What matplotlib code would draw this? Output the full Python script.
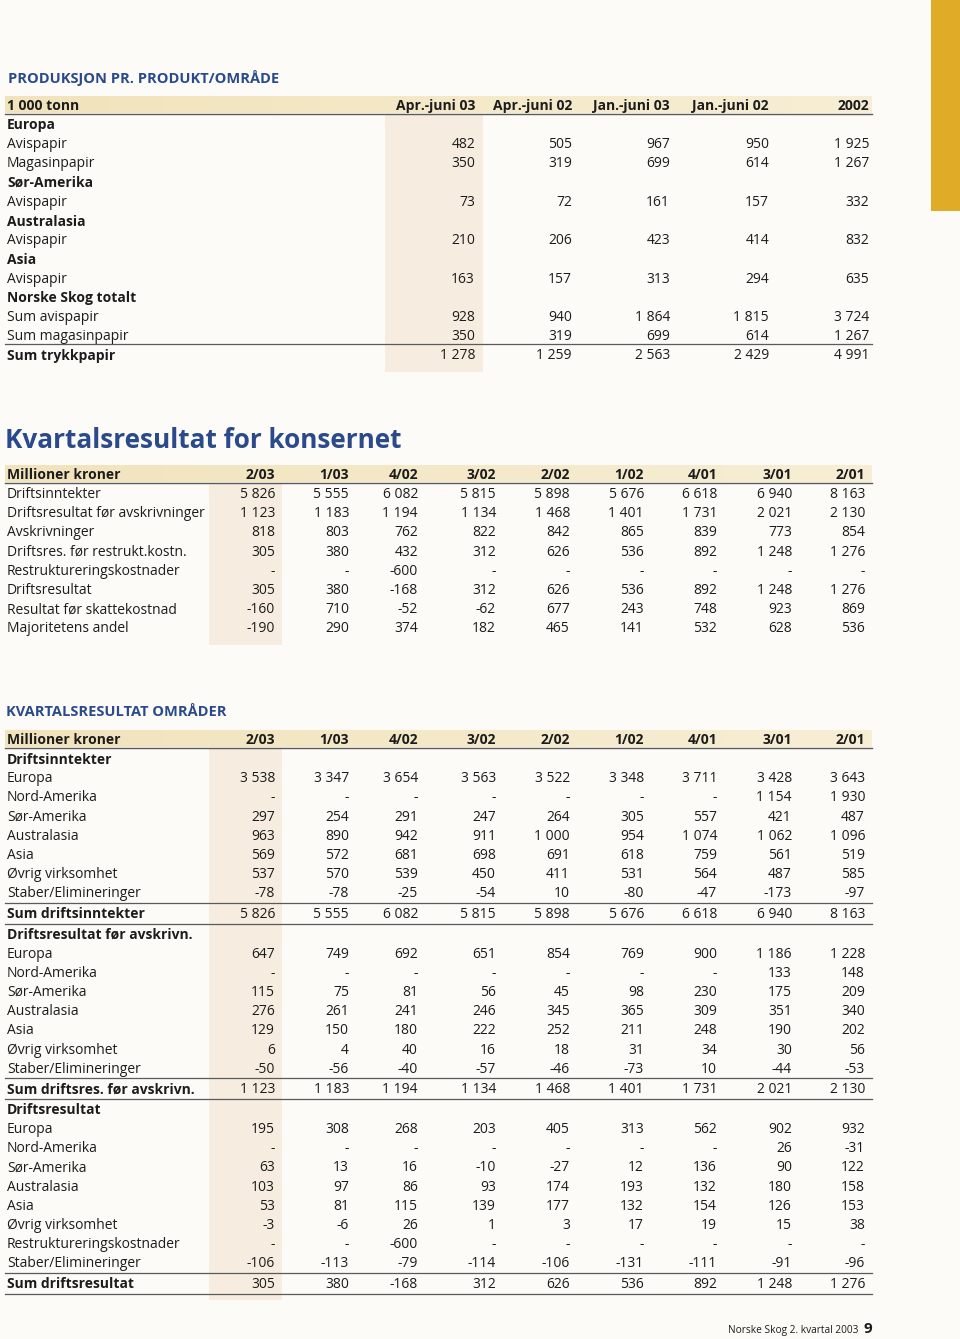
import numpy as np
import matplotlib
matplotlib.use("Agg")
import matplotlib.pyplot as plt
from matplotlib import font_manager

# --- data -------------------------------------------------------------
prod_cols = ["Apr.-juni 03", "Apr.-juni 02", "Jan.-juni 03", "Jan.-juni 02", "2002"]
prod_rows = [
    ("group", "Europa", None),
    ("row", "Avispapir", [482, 505, 967, 950, 1925]),
    ("row", "Magasinpapir", [350, 319, 699, 614, 1267]),
    ("group", "Sør-Amerika", None),
    ("row", "Avispapir", [73, 72, 161, 157, 332]),
    ("group", "Australasia", None),
    ("row", "Avispapir", [210, 206, 423, 414, 832]),
    ("group", "Asia", None),
    ("row", "Avispapir", [163, 157, 313, 294, 635]),
    ("group", "Norske Skog totalt", None),
    ("row", "Sum avispapir", [928, 940, 1864, 1815, 3724]),
    ("row", "Sum magasinpapir", [350, 319, 699, 614, 1267]),
    ("sum1", "Sum trykkpapir", [1278, 1259, 2563, 2429, 4991]),
]

quarters = ["2/03", "1/03", "4/02", "3/02", "2/02", "1/02", "4/01", "3/01", "2/01"]
N = None
kons_rows = [
    ("row", "Driftsinntekter", [5826, 5555, 6082, 5815, 5898, 5676, 6618, 6940, 8163]),
    ("row", "Driftsresultat før avskrivninger", [1123, 1183, 1194, 1134, 1468, 1401, 1731, 2021, 2130]),
    ("row", "Avskrivninger", [818, 803, 762, 822, 842, 865, 839, 773, 854]),
    ("row", "Driftsres. før restrukt.kostn.", [305, 380, 432, 312, 626, 536, 892, 1248, 1276]),
    ("row", "Restruktureringskostnader", [N, N, -600, N, N, N, N, N, N]),
    ("row", "Driftsresultat", [305, 380, -168, 312, 626, 536, 892, 1248, 1276]),
    ("row", "Resultat før skattekostnad", [-160, 710, -52, -62, 677, 243, 748, 923, 869]),
    ("row", "Majoritetens andel", [-190, 290, 374, 182, 465, 141, 532, 628, 536]),
]

omr_rows = [
    ("group", "Driftsinntekter", None),
    ("row", "Europa", [3538, 3347, 3654, 3563, 3522, 3348, 3711, 3428, 3643]),
    ("row", "Nord-Amerika", [N, N, N, N, N, N, N, 1154, 1930]),
    ("row", "Sør-Amerika", [297, 254, 291, 247, 264, 305, 557, 421, 487]),
    ("row", "Australasia", [963, 890, 942, 911, 1000, 954, 1074, 1062, 1096]),
    ("row", "Asia", [569, 572, 681, 698, 691, 618, 759, 561, 519]),
    ("row", "Øvrig virksomhet", [537, 570, 539, 450, 411, 531, 564, 487, 585]),
    ("row", "Staber/Elimineringer", [-78, -78, -25, -54, 10, -80, -47, -173, -97]),
    ("sum", "Sum driftsinntekter", [5826, 5555, 6082, 5815, 5898, 5676, 6618, 6940, 8163]),
    ("group", "Driftsresultat før avskrivn.", None),
    ("row", "Europa", [647, 749, 692, 651, 854, 769, 900, 1186, 1228]),
    ("row", "Nord-Amerika", [N, N, N, N, N, N, N, 133, 148]),
    ("row", "Sør-Amerika", [115, 75, 81, 56, 45, 98, 230, 175, 209]),
    ("row", "Australasia", [276, 261, 241, 246, 345, 365, 309, 351, 340]),
    ("row", "Asia", [129, 150, 180, 222, 252, 211, 248, 190, 202]),
    ("row", "Øvrig virksomhet", [6, 4, 40, 16, 18, 31, 34, 30, 56]),
    ("row", "Staber/Elimineringer", [-50, -56, -40, -57, -46, -73, 10, -44, -53]),
    ("sum", "Sum driftsres. før avskrivn.", [1123, 1183, 1194, 1134, 1468, 1401, 1731, 2021, 2130]),
    ("group", "Driftsresultat", None),
    ("row", "Europa", [195, 308, 268, 203, 405, 313, 562, 902, 932]),
    ("row", "Nord-Amerika", [N, N, N, N, N, N, N, 26, -31]),
    ("row", "Sør-Amerika", [63, 13, 16, -10, -27, 12, 136, 90, 122]),
    ("row", "Australasia", [103, 97, 86, 93, 174, 193, 132, 180, 158]),
    ("row", "Asia", [53, 81, 115, 139, 177, 132, 154, 126, 153]),
    ("row", "Øvrig virksomhet", [-3, -6, 26, 1, 3, 17, 19, 15, 38]),
    ("row", "Restruktureringskostnader", [N, N, -600, N, N, N, N, N, N]),
    ("row", "Staber/Elimineringer", [-106, -113, -79, -114, -106, -131, -111, -91, -96]),
    ("sum", "Sum driftsresultat", [305, 380, -168, 312, 626, 536, 892, 1248, 1276]),
]

# --- style ------------------------------------------------------------
# pick a humanist sans that actually ships a bold face
bold_families = {f.name for f in font_manager.fontManager.ttflist
                 if (f.weight if isinstance(f.weight, int) else 400) >= 600
                 or str(f.weight).lower() in ("bold", "semibold", "demibold")}
FONT = "DejaVu Sans"
for cand in ["Open Sans", "Noto Sans", "Lato", "Roboto", "Inter"]:
    if cand in bold_families:
        FONT = cand
        break
plt.rcParams["font.family"] = [FONT, "DejaVu Sans"]

BG = "#fcfbf7"
BLUE = "#2a4a8b"
INK = "#1c1c1c"
BAND_L = "#f1e3bb"
BAND_R = "#f7eed5"
HILITE = "#f6ece0"
RULE = "#5a5a5a"
FS = 10.0
ROW_H = 19.2

fig = plt.figure(figsize=(9.6, 13.39), dpi=100, facecolor=BG)
ax = fig.add_axes([0, 0, 1, 1])
ax.set_xlim(0, 960)
ax.set_ylim(1339, 0)
ax.axis("off")
ax.set_facecolor(BG)

band_img = np.linspace(0, 1, 256).reshape(1, -1)
band_cmap = matplotlib.colors.LinearSegmentedColormap.from_list("band", [BAND_L, BAND_R])


def fmt(v):
    if v is None:
        return "-"
    return f"{v:,}".replace(",", " ")


def draw_table(head_y, label, cols, col_right, rows, hl_x, x0=5, x1=872):
    # header band + rule
    ax.imshow(band_img, cmap=band_cmap, aspect="auto",
              extent=(x0, x1, head_y + 8.5, head_y - 8.5), zorder=0)
    ax.plot([x0, x1], [head_y + 8.7, head_y + 8.7], color=RULE, lw=1.0, zorder=2)
    ax.text(7, head_y + 1, label, fontsize=FS, fontweight="bold", color=INK, va="center")
    for c, xr in zip(cols, col_right):
        ax.text(xr, head_y + 1, c, fontsize=FS, fontweight="bold", color=INK,
                va="center", ha="right")

    y = head_y + 19.5
    last = y
    for kind, name, vals in rows:
        if kind == "sum":
            y += 1.2
            ax.plot([x0, x1], [y - 10.3, y - 10.3], color=RULE, lw=0.9, zorder=2)
            ax.plot([x0, x1], [y + 10.3, y + 10.3], color=RULE, lw=0.9, zorder=2)
        elif kind == "sum1":
            ax.plot([x0, x1], [y - 10.6, y - 10.6], color=RULE, lw=0.9, zorder=2)
        bold = kind in ("group", "sum", "sum1")
        ax.text(7, y + 1, name, fontsize=FS, color=INK, va="center",
                fontweight="bold" if bold else "normal")
        if vals is not None:
            for v, xr in zip(vals, col_right):
                ax.text(xr, y + 1, fmt(v), fontsize=FS, color=INK, va="center", ha="right")
        last = y
        y += ROW_H
        if kind == "sum":
            y += 1.4
    # highlighted first data column
    ax.fill_between([hl_x[0], hl_x[1]], head_y + 8.7, last + 17, color=HILITE, zorder=0, lw=0)


# gold tab
ax.fill_between([931, 960], 0, 211, color="#e0ab27", lw=0, zorder=1)

# section 1
ax.text(8, 78, "PRODUKSJON PR. PRODUKT/OMRÅDE", fontsize=10.5, fontweight="bold",
        color=BLUE, va="center")
draw_table(105, "1 000 tonn", prod_cols, [475, 572, 670, 769, 869], prod_rows, (385, 483))

# section 2
qcols = [275, 349, 418, 496, 570, 644, 717, 792, 865]
ax.text(5, 441, "Kvartalsresultat for konsernet", fontsize=18.8, fontweight="bold",
        color=BLUE, va="center")
draw_table(474, "Millioner kroner", quarters, qcols, kons_rows, (209, 282))

# section 3
ax.text(6, 712, "KVARTALSRESULTAT OMRÅDER", fontsize=10.5, fontweight="bold",
        color=BLUE, va="center")
draw_table(739, "Millioner kroner", quarters, qcols, omr_rows, (209, 282))

# footer
ax.text(859, 1331, "Norske Skog 2. kvartal 2003", fontsize=7.3, color=INK,
        ha="right", va="center")
ax.text(863, 1329, "9", fontsize=11, fontweight="bold", color=INK, ha="left", va="center")

fig.savefig("out.png", dpi=100, facecolor=BG)
